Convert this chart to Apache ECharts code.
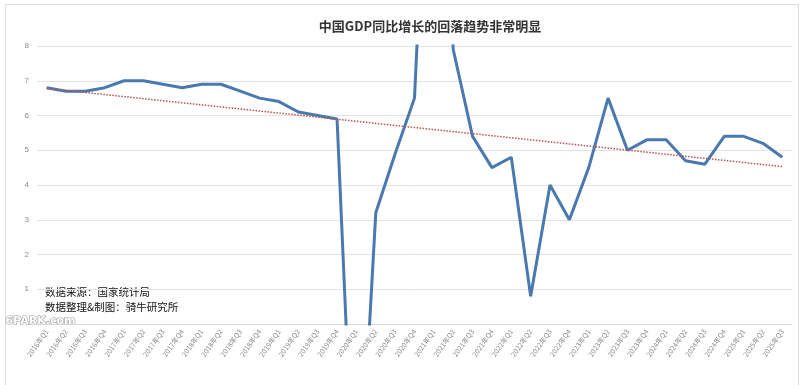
<!DOCTYPE html>
<html>
<head>
<meta charset="utf-8">
<script src="https://cdn.jsdelivr.net/npm/echarts@6/dist/echarts.min.js"></script>
<style>html,body{margin:0;padding:0;background:#fff}#c{width:800px;height:385px}</style>
</head>
<body>
<div id="c"></div>
<script>
const categories = [
  '2016年Q1','2016年Q2','2016年Q3','2016年Q4',
  '2017年Q1','2017年Q2','2017年Q3','2017年Q4',
  '2018年Q1','2018年Q2','2018年Q3','2018年Q4',
  '2019年Q1','2019年Q2','2019年Q3','2019年Q4',
  '2020年Q1','2020年Q2','2020年Q3','2020年Q4',
  '2021年Q1','2021年Q2','2021年Q3','2021年Q4',
  '2022年Q1','2022年Q2','2022年Q3','2022年Q4',
  '2023年Q1','2023年Q2','2023年Q3','2023年Q4',
  '2024年Q1','2024年Q2','2024年Q3','2024年Q4',
  '2025年Q1','2025年Q2','2025年Q3'
];
const gdpGrowth = [
  6.8, 6.7, 6.7, 6.8,
  7.0, 7.0, 6.9, 6.8,
  6.9, 6.9, 6.7, 6.5,
  6.4, 6.1, 6.0, 5.9,
  -6.8, 3.2, 4.9, 6.5,
  18.3, 7.9, 5.4, 4.5,
  4.8, 0.8, 4.0, 3.0,
  4.5, 6.5, 5.0, 5.3,
  5.3, 4.7, 4.6, 5.4,
  5.4, 5.2, 4.8
];
const trendStart = 6.78;
const trendEnd = 4.53;
const yTicks = [0, 1, 2, 3, 4, 5, 6, 7, 8];

const title = '中国GDP同比增长的回落趋势非常明显';
const sourceLines = ['数据来源：国家统计局', '数据整理&制图：骑牛研究所'];

const trendData = categories.map((c, i) => i === 0 ? trendStart : (i === categories.length - 1 ? trendEnd : null));

const chart = echarts.init(document.getElementById('c'), null, {renderer: 'canvas'});
chart.setOption({
  backgroundColor: '#fff',
  animation: false,
  title: {
    text: title,
    left: 425, top: 15, textAlign: 'center',
    textStyle: {fontFamily: 'Noto Sans CJK SC', fontSize: 13, fontWeight: 'bold', color: '#333'}
  },
  grid: {left: 37, right: 8, top: 46, bottom: 61, containLabel: false},
  xAxis: {
    type: 'category',
    data: categories,
    boundaryGap: true,
    axisLine: {lineStyle: {color: '#d9d9d9', width: 1}},
    axisTick: {show: false},
    axisLabel: {
      interval: 0, rotate: 55, margin: 6,
      fontSize: 7, color: '#8c8c8c', fontFamily: 'Noto Sans CJK SC'
    }
  },
  yAxis: {
    type: 'value',
    min: yTicks[0], max: yTicks[yTicks.length - 1], interval: 1,
    axisLine: {show: false},
    axisTick: {show: false},
    axisLabel: {
      fontSize: 8, color: '#8c8c8c', margin: 8,
      formatter: v => v === 0 ? '' : String(v)
    },
    splitLine: {lineStyle: {color: '#e3e3e3', width: 1}}
  },
  series: [
    {
      type: 'line', data: gdpGrowth, symbol: 'none', clip: true,
      lineStyle: {color: '#4a79b0', width: 3}, z: 2
    },
    {
      type: 'line', data: trendData, symbol: 'none', connectNulls: true,
      lineStyle: {color: '#c0504d', width: 1.5, type: [1.5, 1.5]}, z: 3
    }
  ],
  graphic: [
    {type: 'rect', left: 3, top: 2, shape: {width: 793, height: 381},
     style: {fill: 'none', stroke: '#dcdcdc', lineWidth: 1}, silent: true},
    {type: 'text', left: 45, top: 287,
     style: {text: sourceLines[0], fontSize: 10.5, fill: '#111', fontFamily: 'Noto Sans CJK SC'}},
    {type: 'text', left: 45, top: 302,
     style: {text: sourceLines[1], fontSize: 10.5, fill: '#111', fontFamily: 'Noto Sans CJK SC'}},
    {type: 'text', left: 5, top: 315,
     style: {text: '6PARK.com', fontSize: 11, fontWeight: 'bold', fill: '#fff', stroke: '#9a9a9a', lineWidth: 1.2, fontFamily: 'DejaVu Sans'}}
  ]
});
</script>
</body>
</html>
